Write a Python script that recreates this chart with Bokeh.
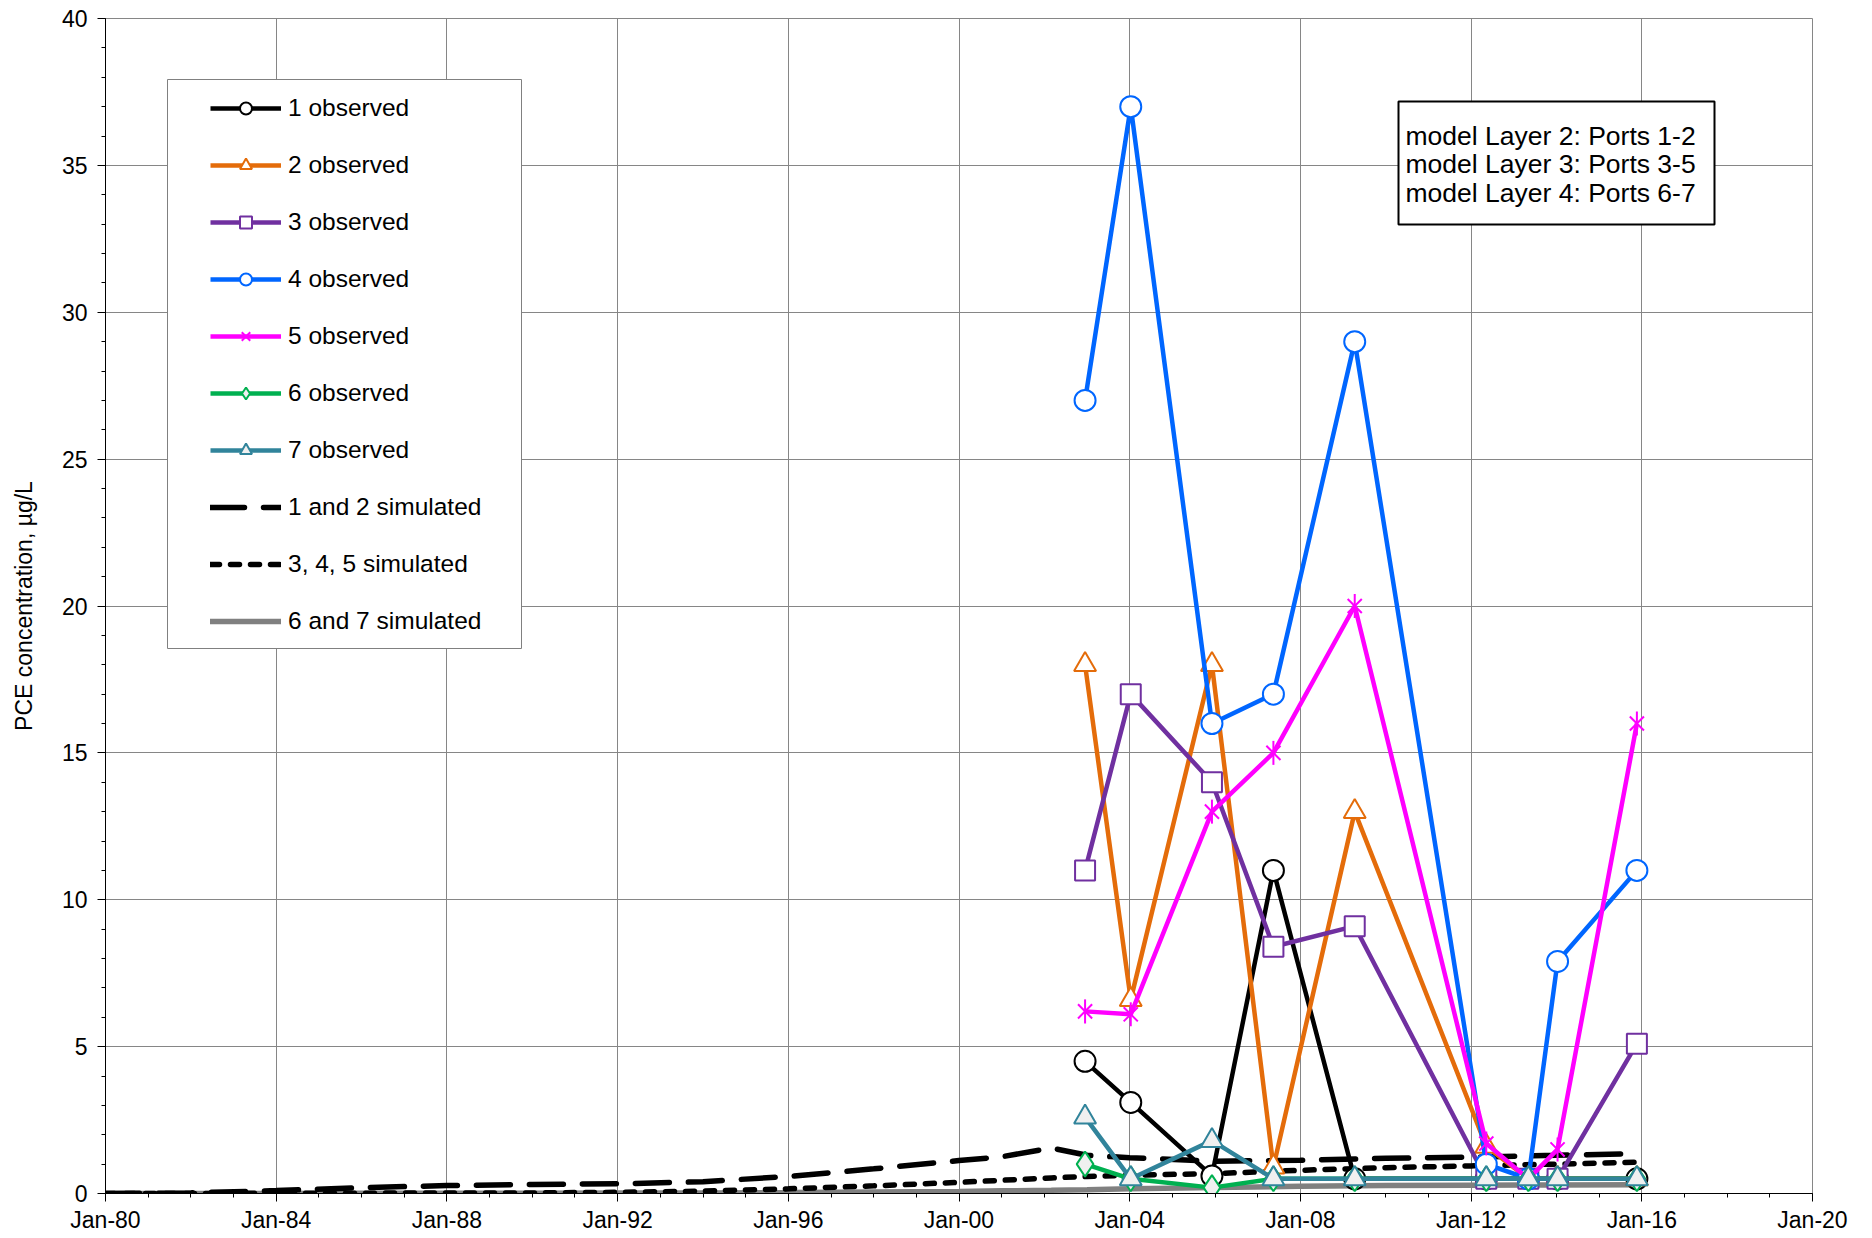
import numpy as np
import pandas as pd
from bokeh.plotting import figure
from bokeh.models import (Range1d, FixedTicker, SingleIntervalTicker, DatetimeTickFormatter,
                          Legend, LegendItem, BoxAnnotation, Label)
from bokeh.embed import file_html
from bokeh.resources import INLINE

# ---------------- data ----------------
obs_dates = ["2002-12-15", "2004-01-10", "2005-12-05", "2007-05-15", "2009-04-10",
             "2012-05-10", "2013-05-05", "2014-01-10", "2015-11-20"]
obs1 = [4.5, 3.1, 0.6, 11.0, 0.5, 0.5, 0.5, 0.5, 0.5]
obs2 = [18.0, 6.6, 18.0, 0.9, 13.0, 1.6, 0.5, 0.5, 0.5]
obs3 = [11.0, 17.0, 14.0, 8.4, 9.1, 0.5, 0.5, 0.5, 5.1]
obs4 = [27.0, 37.0, 16.0, 17.0, 29.0, 1.0, 0.5, 7.9, 11.0]
obs5 = [6.2, 6.1, 13.0, 15.0, 20.0, 1.7, 0.5, 1.5, 16.0]
obs6 = [1.0, 0.5, 0.2, 0.5, 0.5, 0.5, 0.5, 0.5, 0.5]
obs7 = [2.6, 0.5, 1.8, 0.5, 0.5, 0.5, 0.5, 0.5, 0.5]

sim_dates = ["1980-01-01", "1982-01-01", "1984-01-01", "1986-01-01", "1988-01-01",
             "1990-01-01", "1992-01-01", "1994-01-01", "1996-01-01", "1998-01-01",
             "2000-01-01", "2001-01-01", "2002-03-01", "2003-01-01", "2004-01-01",
             "2006-01-01", "2008-01-01", "2010-01-01", "2012-01-01", "2014-01-01",
             "2015-12-01"]
sim12 = [0.0, 0.02, 0.1, 0.2, 0.27, 0.31, 0.33, 0.4, 0.58, 0.84, 1.12, 1.25, 1.55,
         1.3, 1.22, 1.1, 1.13, 1.2, 1.24, 1.3, 1.36]
sim345 = [0.0, 0.0, 0.01, 0.01, 0.02, 0.02, 0.04, 0.08, 0.16, 0.26, 0.38, 0.45, 0.53,
          0.58, 0.62, 0.68, 0.79, 0.88, 0.94, 1.0, 1.07]
sim67 = [0.0, 0.0, 0.0, 0.01, 0.01, 0.01, 0.02, 0.02, 0.03, 0.05, 0.07, 0.09, 0.11,
         0.13, 0.16, 0.2, 0.25, 0.27, 0.28, 0.29, 0.3]

obs_labels = ["1 observed", "2 observed", "3 observed", "4 observed", "5 observed",
              "6 observed", "7 observed"]
sim_labels = ["1 and 2 simulated", "3, 4, 5 simulated", "6 and 7 simulated"]
tick_years = list(range(1980, 2021, 4))
minor_years = list(range(1980, 2021))
y_label = "PCE concentration, µg/L"
note_lines = ["model Layer 2: Ports 1-2", "model Layer 3: Ports 3-5", "model Layer 4: Ports 6-7"]

# ---------------- figure ----------------
FONT = "Liberation Sans"


def ms(s):
    return pd.Timestamp(s).value / 1e6


p = figure(width=1868, height=1237, x_axis_type="datetime", output_backend="svg",
           toolbar_location=None,
           x_range=Range1d(ms("1980-01-01"), ms("2020-01-01")), y_range=Range1d(0, 40),
           min_border_left=105, min_border_right=56, min_border_top=18, min_border_bottom=44)
p.background_fill_color = "white"
p.border_fill_color = "white"
p.outline_line_color = "#868686"
p.outline_line_width = 1

p.xaxis.ticker = FixedTicker(ticks=[ms(f"{y}-01-01") for y in tick_years],
                             minor_ticks=[ms(f"{y}-01-01") for y in minor_years])
fmt = "%b-%y"
p.xaxis.formatter = DatetimeTickFormatter(years=fmt, months=fmt, days=fmt, hours=fmt,
                                          hourmin=fmt, minutes=fmt, minsec=fmt, seconds=fmt,
                                          milliseconds=fmt, microseconds=fmt)
p.yaxis.ticker = SingleIntervalTicker(interval=5, num_minor_ticks=5)

for ax in p.axis:
    ax.major_tick_out = 8
    ax.major_tick_in = 0
    ax.minor_tick_out = 4
    ax.minor_tick_in = 0
    ax.axis_line_color = "black"
    ax.major_tick_line_color = "black"
    ax.minor_tick_line_color = "black"
    ax.major_label_text_font = FONT
    ax.major_label_text_font_size = "23px"
    ax.major_label_text_color = "black"
p.xaxis.major_label_standoff = 5
p.yaxis.major_label_standoff = 10
p.yaxis.axis_label = y_label
p.yaxis.axis_label_text_font = FONT
p.yaxis.axis_label_text_font_size = "23px"
p.yaxis.axis_label_text_font_style = "normal"
p.yaxis.axis_label_text_color = "black"
p.yaxis.axis_label_standoff = 22

p.xgrid.grid_line_color = "#868686"
p.ygrid.grid_line_color = "#868686"
p.xgrid.grid_line_width = 1
p.ygrid.grid_line_width = 1

xo = pd.to_datetime(obs_dates)
xs = pd.to_datetime(sim_dates)

# simulated lines first (drawn underneath)
r_s67 = p.line(xs, sim67, line_color="#808080", line_width=5.5, line_cap="round")
r_s345 = p.line(xs, sim345, line_color="black", line_width=5.5, line_dash="9 11", line_cap="round")
r_s12 = p.line(xs, sim12, line_color="black", line_width=5.5, line_dash="34 19", line_cap="round")

items = []
LW = 4.5

l1 = p.line(xo, obs1, line_color="black", line_width=LW)
m1 = p.scatter(xo, obs1, marker="circle", size=21, line_color="black", line_width=2, fill_color="white")
items.append(LegendItem(label=obs_labels[0], renderers=[l1, m1]))

c2 = "#E46C0A"
l2 = p.line(xo, obs2, line_color=c2, line_width=LW)
m2 = p.scatter(xo, obs2, marker="triangle", size=22, line_color=c2, line_width=2, fill_color="white")
items.append(LegendItem(label=obs_labels[1], renderers=[l2, m2]))

c3 = "#7030A0"
l3 = p.line(xo, obs3, line_color=c3, line_width=LW)
m3 = p.scatter(xo, obs3, marker="square", size=20, line_color=c3, line_width=2, fill_color="white")
items.append(LegendItem(label=obs_labels[2], renderers=[l3, m3]))

c4 = "#0066FF"
l4 = p.line(xo, obs4, line_color=c4, line_width=LW)
m4 = p.scatter(xo, obs4, marker="circle", size=21, line_color=c4, line_width=2, fill_color="white")
items.append(LegendItem(label=obs_labels[3], renderers=[l4, m4]))

c5 = "#FF00FF"
l5 = p.line(xo, obs5, line_color=c5, line_width=LW)
m5a = p.scatter(xo, obs5, marker="x", size=20, line_color=c5, line_width=2)
m5b = p.scatter(xo, obs5, marker="dash", size=24, angle=np.pi / 2, line_color=c5, line_width=2)
items.append(LegendItem(label=obs_labels[4], renderers=[l5, m5a, m5b]))

c6 = "#00B050"
l6 = p.line(xo, obs6, line_color=c6, line_width=LW)
m6 = p.scatter(xo, obs6, marker="diamond", size=25, line_color=c6, line_width=2,
               fill_color="#F0F0F0")
items.append(LegendItem(label=obs_labels[5], renderers=[l6, m6]))

c7 = "#31849B"
l7 = p.line(xo, obs7, line_color=c7, line_width=LW)
m7 = p.scatter(xo, obs7, marker="triangle", size=22, line_color=c7, line_width=2, fill_color="#F0F0F0")
items.append(LegendItem(label=obs_labels[6], renderers=[l7, m7]))

items.append(LegendItem(label=sim_labels[0], renderers=[r_s12]))
items.append(LegendItem(label=sim_labels[1], renderers=[r_s345]))
items.append(LegendItem(label=sim_labels[2], renderers=[r_s67]))

# legend frame box (screen units relative to the plot frame, y from bottom)
leg_box = BoxAnnotation(left=62, right=416, top=1114, bottom=545,
                        left_units="screen", right_units="screen",
                        top_units="screen", bottom_units="screen",
                        fill_color="white", fill_alpha=1.0,
                        line_color="#808080", line_width=1, line_alpha=1.0)
p.add_layout(leg_box)

legend = Legend(items=items, location=(93, 545), orientation="vertical",
                glyph_width=71, glyph_height=30, label_height=30, label_standoff=7,
                spacing=27, padding=12, margin=0,
                label_text_font=FONT, label_text_font_size="24.5px", label_text_color="black",
                border_line_alpha=0, background_fill_alpha=0)
p.add_layout(legend)

# note box
note_box = BoxAnnotation(left=1293, right=1609, top=1092, bottom=969,
                         left_units="screen", right_units="screen",
                         top_units="screen", bottom_units="screen",
                         fill_color="white", fill_alpha=1.0,
                         line_color="black", line_width=2, line_alpha=1.0)
p.add_layout(note_box)
for i, t in enumerate(note_lines):
    p.add_layout(Label(x=1300, y=1058 - 28.5 * i, x_units="screen", y_units="screen", text=t,
                       text_font=FONT, text_font_size="26.5px", text_color="black",
                       text_baseline="alphabetic"))

open("out.html", "w").write(file_html(p, INLINE))
